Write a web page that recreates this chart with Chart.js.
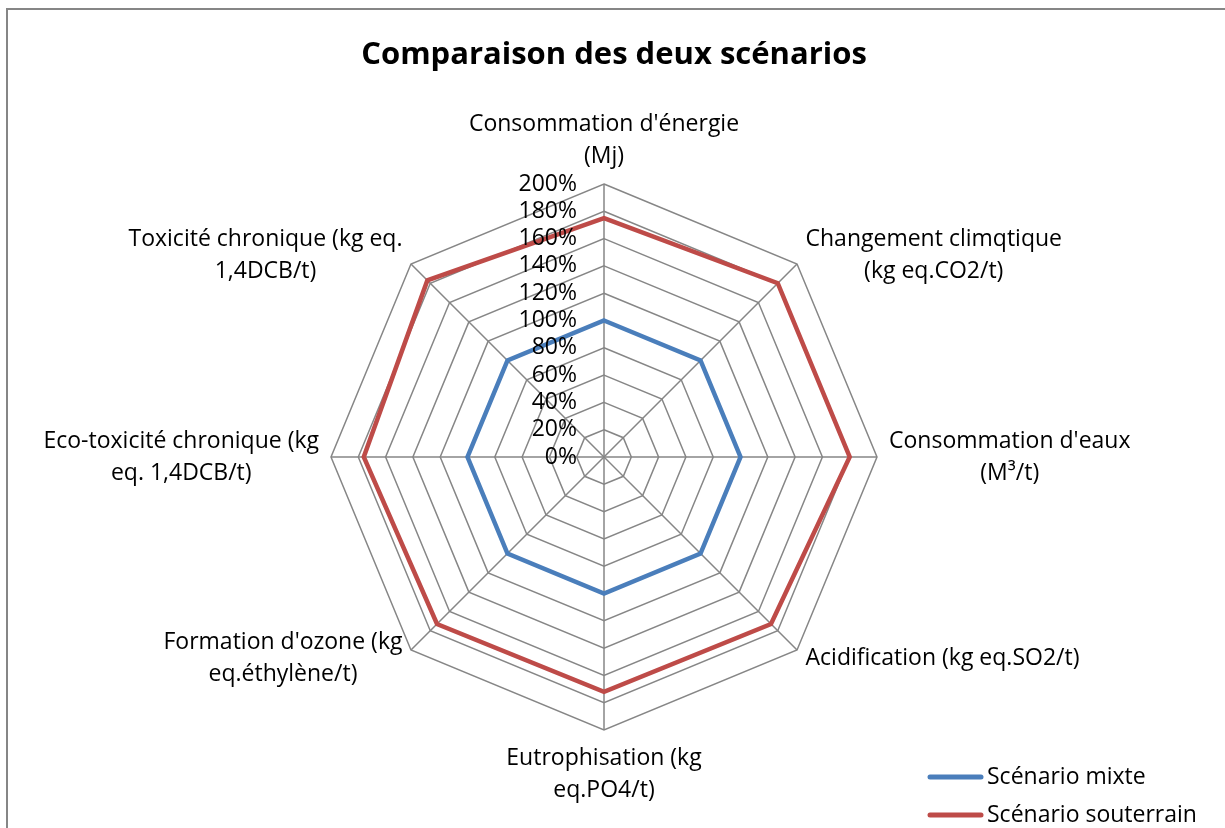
<!DOCTYPE html>
<html>
<head>
<meta charset="utf-8">
<script src="https://cdn.jsdelivr.net/npm/chart.js@4.4.0/dist/chart.umd.min.js"></script>
<style>
  html, body { margin: 0; padding: 0; background: #fff; }
  canvas { display: block; }
</style>
</head>
<body>
<canvas id="chart" width="1225" height="828"></canvas>
<script>
var chartTitle = "Comparaison des deux scénarios";

// one entry per axis, each line of the label on its own
var categories = [
  ["Consommation d'énergie", "(Mj)"],
  ["Changement climqtique", "(kg eq.CO2/t)"],
  ["Consommation d'eaux", "(M³/t)"],
  ["Acidification (kg eq.SO2/t)"],
  ["Eutrophisation (kg", "eq.PO4/t)"],
  ["Formation d'ozone (kg", "eq.éthylène/t)"],
  ["Eco-toxicité chronique (kg", "eq. 1,4DCB/t)"],
  ["Toxicité chronique (kg eq.", "1,4DCB/t)"]
];

var seriesNames = ["Scénario mixte", "Scénario souterrain"];
var mixte = [100, 100, 100, 100, 100, 100, 100, 100];
var souterrain = [175, 180, 180, 173, 172, 173, 176, 183];

var tickMin = 0;
var tickMax = 200;
var tickStep = 20;

var colors = ["#4a7ebb", "#be4b48"];
var FONT = "'Open Sans', sans-serif";
var LINE_H = 32;

// frame, title, axis labels, tick labels and legend, all placed from the radial scale
var decor = {
  id: "decor",
  afterDraw: function (chart) {
    var ctx = chart.ctx;
    var scale = chart.scales.r;
    ctx.save();

    // frame
    ctx.strokeStyle = "#868686";
    ctx.lineWidth = 2;
    ctx.beginPath();
    ctx.moveTo(7, 828);
    ctx.lineTo(7, 9);
    ctx.lineTo(1225, 9);
    ctx.stroke();

    // title
    ctx.fillStyle = "#000";
    ctx.font = "bold 31px " + FONT;
    ctx.textAlign = "center";
    ctx.textBaseline = "middle";
    ctx.fillText(chartTitle, 614, 55);

    // axis labels
    ctx.font = "23px " + FONT;
    for (var i = 0; i < categories.length; i++) {
      var lines = categories[i];
      var p = scale.getPointPosition(i, scale.drawingArea + 12);
      var deg = Math.round((p.angle + Math.PI / 2) * 180 / Math.PI);
      deg = ((deg % 360) + 360) % 360;

      var w = 0;
      for (var k = 0; k < lines.length; k++) {
        w = Math.max(w, ctx.measureText(lines[k]).width);
      }
      var h = lines.length * LINE_H;

      var cx, top;
      if (deg === 0) { cx = p.x; top = p.y - h; }
      else if (deg === 180) { cx = p.x; top = p.y; }
      else if (deg < 180) { cx = p.x + w / 2; top = p.y - h / 2; }
      else { cx = p.x - w / 2; top = p.y - h / 2; }

      for (var k2 = 0; k2 < lines.length; k2++) {
        ctx.fillText(lines[k2], cx, top + LINE_H * (k2 + 0.5));
      }
    }

    // tick labels, right aligned left of the vertical axis
    ctx.textAlign = "right";
    for (var t = 0; t < scale.ticks.length; t++) {
      var v = scale.ticks[t].value;
      var d = scale.getDistanceFromCenterForValue(v);
      ctx.fillText(v + "%", scale.xCenter - 27, scale.yCenter - d);
    }

    // legend
    var ds = chart.data.datasets;
    for (var j = 0; j < ds.length; j++) {
      var y = 777 + j * 38;
      ctx.strokeStyle = ds[j].borderColor;
      ctx.lineWidth = 5;
      ctx.lineCap = "round";
      ctx.beginPath();
      ctx.moveTo(930, y);
      ctx.lineTo(981, y);
      ctx.stroke();
      ctx.textAlign = "left";
      ctx.fillStyle = "#000";
      ctx.fillText(ds[j].label, 987, y);
    }

    ctx.restore();
  }
};

new Chart(document.getElementById("chart"), {
  type: "radar",
  data: {
    labels: categories,
    datasets: [
      { label: seriesNames[0], data: mixte, borderColor: colors[0], borderWidth: 4.5, fill: false, pointRadius: 0, pointHoverRadius: 0 },
      { label: seriesNames[1], data: souterrain, borderColor: colors[1], borderWidth: 4.5, fill: false, pointRadius: 0, pointHoverRadius: 0 }
    ]
  },
  options: {
    responsive: false,
    animation: false,
    layout: { padding: { left: 331, right: 348, top: 184, bottom: 98 } },
    plugins: {
      legend: { display: false },
      title: { display: false },
      tooltip: { enabled: false }
    },
    elements: { line: { tension: 0, borderJoinStyle: "miter" } },
    scales: {
      r: {
        min: tickMin,
        max: tickMax,
        beginAtZero: true,
        ticks: { stepSize: tickStep, display: false },
        pointLabels: { display: false },
        grid: { color: "#868686", lineWidth: 1.5 },
        angleLines: { color: "#868686", lineWidth: 1.5 }
      }
    }
  },
  plugins: [decor]
});
</script>
</body>
</html>
